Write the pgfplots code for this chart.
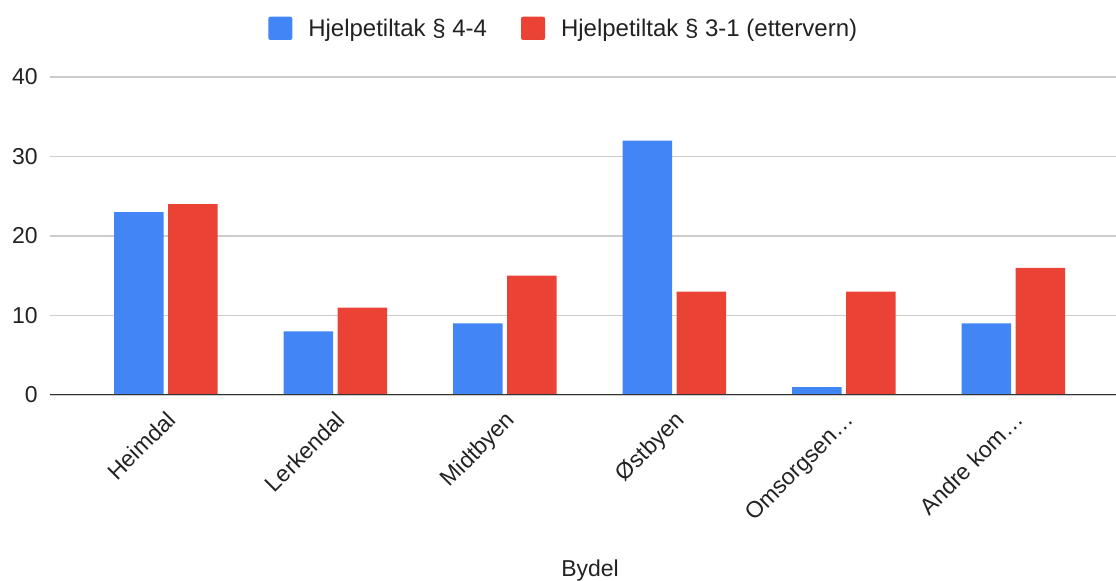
\documentclass[border=0pt]{standalone}
\usepackage{pgfplots}
\pgfplotsset{compat=1.18}
\usepackage{fontspec}
\setmainfont{Liberation Sans}
\definecolor{gblue}{HTML}{4285F4}
\definecolor{gred}{HTML}{EA4335}
\definecolor{gridc}{HTML}{CCCCCC}
\definecolor{axc}{HTML}{333333}
\definecolor{txt}{HTML}{222222}
\newcommand{\chartfont}{\fontsize{11.5pt}{13.8pt}\selectfont}
\newcommand{\legfont}{\fontsize{12pt}{14.4pt}\selectfont}
\begin{document}
\begin{tikzpicture}
\path[use as bounding box] (0,0) rectangle (558pt,290.5pt);
\begin{axis}[
  at={(25pt,93pt)}, anchor=south west,
  scale only axis, width=533pt, height=159pt,
  ybar=2.2pt, bar width=24.8pt,
  xmin=-0.684, xmax=5.605, ymin=0, ymax=40,
  xtick={0,1,2,3,4,5},
  xticklabels={Heimdal,Lerkendal,Midtbyen,Østbyen,Omsorgsen…,Andre kom…},
  ytick={0,10,20,30,40},
  major tick length=0pt,
  axis line style={draw=none},
  ymajorgrids, major grid style={color=gridc, line width=0.6pt},
  /pgf/number format/assume math mode=true,
  tick label style={font=\chartfont, text=txt},
  yticklabel style={anchor=east, inner sep=0pt, xshift=-6pt},
  xticklabel style={xshift=5.6pt, yshift=-13.2pt, rotate=45, anchor=base east, inner sep=0pt},
  xlabel={Bydel},
  xlabel style={at={(axis description cs:0.5066,0)}, anchor=base, yshift=-90.85pt, inner sep=0pt, font=\chartfont, text=txt},
  legend style={at={(0.481,1.153)}, anchor=center, draw=none, fill=none,
    legend columns=2, font=\legfont, text=txt, inner sep=0pt,
    nodes={inner sep=0pt, anchor=base west},
    /tikz/every odd column/.append style={column sep=8pt},
    /tikz/every even column/.append style={column sep=17pt}},
  legend image code/.code={\fill[#1, draw=none, rounded corners=1pt] (0pt,-1.6pt) rectangle (12pt,10pt);},
]
\addplot[fill=gblue, draw=none] coordinates {(0,23) (1,8) (2,9) (3,32) (4,1) (5,9)};
\addplot[fill=gred, draw=none] coordinates {(0,24) (1,11) (2,15) (3,13) (4,13) (5,16)};
\legend{Hjelpetiltak § 4-4, Hjelpetiltak § 3-1 (ettervern)}
\draw[axc, line width=1pt] (rel axis cs:0,0) -- (rel axis cs:1,0);
\end{axis}
\end{tikzpicture}
\end{document}
